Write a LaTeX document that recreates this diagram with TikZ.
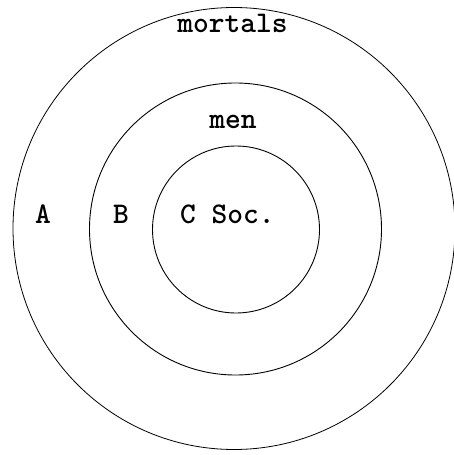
\documentclass[tikz,border=0pt]{standalone}
\begin{document}
\begin{tikzpicture}[x=1pt,y=-1pt,
  ring/.style={circle,draw,line width=0.8pt,inner sep=0pt},
  lbl/.style={inner sep=0pt,anchor=base,font=\fontsize{30}{30}\ttfamily\bfseries}]
\useasboundingbox (0,0) rectangle (454,455);
\node[ring,minimum size=442pt] (outer) at (234,228.5) {};
\node[ring,minimum size=292pt,line width=0.9pt] (middle) at (235.5,229) {};
\node[ring,minimum size=167pt,line width=0.9pt] (inner) at (236,229.5) {};
\node[lbl] (mortals) at (232.5,32) {mortals};
\node[lbl] (men) at (233,128) {men};
\node[lbl] (A) at (43,223) {A};
\node[lbl] (B) at (121,223) {B};
\node[lbl,anchor=base west] (C) at (180,223) {C Soc.};
\end{tikzpicture}
\end{document}
